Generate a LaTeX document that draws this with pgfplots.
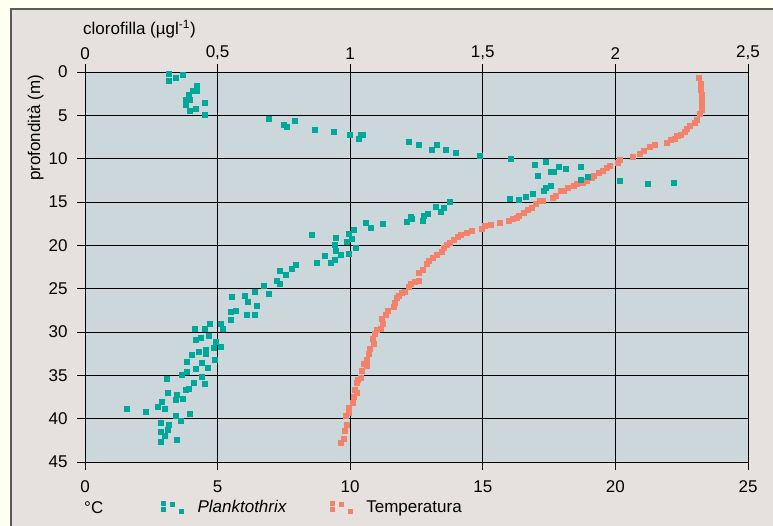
\documentclass[border=0pt]{standalone}
\usepackage{pgfplots}
\pgfplotsset{compat=1.18}
\usepackage{fontspec}
\setmainfont{Liberation Sans}

\definecolor{outerbg}{HTML}{FFFFF2}
\definecolor{panelbg}{HTML}{E6E1DE}
\definecolor{panelline}{HTML}{5A5A5A}
\definecolor{axisbg}{HTML}{CCD7DC}
\definecolor{plank}{HTML}{00A89C}
\definecolor{temp}{HTML}{F4826A}

% temperatura (gradi C) vs profondita (m)
\pgfplotstableread{
T d
23.13 0.62
23.21 1.31
23.21 2.00
23.25 2.58
23.25 3.15
23.24 3.62
23.25 4.31
23.16 4.85
23.05 5.46
22.98 5.81
22.82 6.15
22.67 6.50
22.63 6.85
22.48 7.19
22.33 7.31
22.22 7.65
22.07 7.77
21.92 8.12
21.50 8.35
21.28 8.58
21.05 9.04
20.90 9.38
20.64 9.73
20.18 10.08
20.07 10.42
19.77 10.77
19.66 11.00
19.51 11.35
19.36 11.58
19.20 11.92
19.09 12.15
18.90 12.50
18.75 12.73
18.53 12.84
18.41 13.07
18.19 13.30
18.04 13.65
17.92 13.65
17.73 14.23
17.62 14.46
17.24 14.80
17.13 14.80
16.98 15.15
16.83 15.61
16.68 15.84
16.53 16.19
16.37 16.53
16.26 16.76
16.11 16.88
15.96 17.11
15.62 17.35
15.28 17.57
15.09 17.69
14.94 18.04
14.57 18.27
14.38 18.50
14.15 18.73
14.04 18.96
13.89 19.30
13.74 19.65
13.62 19.88
13.51 20.23
13.44 20.69
13.28 21.03
13.10 21.38
12.95 21.73
12.87 22.07
12.72 22.77
12.57 23.11
12.57 24.03
12.42 24.15
12.27 24.38
12.19 24.73
12.04 25.30
11.96 25.42
11.81 25.77
11.76 26.00
11.66 26.57
11.65 27.04
11.43 27.50
11.35 27.96
11.20 28.42
11.24 29.00
11.16 29.57
11.01 29.69
10.94 30.15
10.86 30.73
10.90 31.30
10.75 31.88
10.71 32.46
10.63 33.15
10.52 33.61
10.63 33.84
10.44 34.42
10.41 35.23
10.29 35.46
10.26 35.80
10.18 36.61
10.26 36.96
10.14 37.42
10.11 38.11
9.93 38.69
9.95 39.27
9.84 39.61
9.88 40.65
9.80 41.34
9.77 42.26
9.65 42.73
}\temptab

% Planktothrix, clorofilla (ug/l) vs profondita (m)
\pgfplotstableread{
c d
0.314 0.23
0.314 1.04
0.342 0.69
0.367 0.35
0.421 1.62
0.421 2.16
0.406 2.16
0.390 2.62
0.380 3.15
0.380 3.73
0.396 3.15
0.417 4.19
0.450 3.50
0.393 4.50
0.450 4.96
0.691 5.35
0.748 6.04
0.759 6.27
0.789 5.58
0.868 6.62
0.936 6.85
0.997 7.19
1.031 7.65
1.038 7.19
1.049 7.19
1.219 8.00
1.257 8.35
1.306 8.92
1.328 8.35
1.359 8.92
1.396 9.27
1.489 9.62
1.604 9.96
1.694 10.65
1.736 10.31
1.785 10.88
1.811 11.11
1.871 10.88
1.706 11.92
1.755 11.46
1.766 11.46
1.871 12.38
1.894 12.04
2.018 12.50
2.120 12.84
2.218 12.73
1.755 13.07
1.739 13.30
1.728 13.65
1.687 14.00
1.660 14.34
1.634 14.69
1.600 14.57
1.377 14.92
1.321 15.50
1.351 15.61
1.340 16.07
1.294 16.30
1.279 16.53
1.227 16.65
1.230 16.88
1.212 17.23
1.272 17.11
1.121 17.46
1.057 17.35
1.076 17.92
1.012 18.15
0.853 18.73
0.944 19.07
0.993 18.61
1.004 19.19
0.985 19.53
0.940 19.88
1.019 20.23
0.944 20.57
0.963 21.03
0.993 20.92
0.902 21.15
0.940 21.61
0.925 21.96
0.872 21.96
0.793 22.19
0.778 22.65
0.736 22.88
0.755 23.34
0.721 24.03
0.733 24.38
0.672 24.61
0.638 25.30
0.691 25.53
0.601 25.77
0.555 25.88
0.612 26.46
0.646 26.92
0.548 27.61
0.567 27.50
0.608 27.96
0.638 27.96
0.548 28.53
0.469 29.00
0.510 29.00
0.518 29.57
0.412 29.57
0.450 29.57
0.465 30.38
0.416 30.84
0.435 30.61
0.491 31.07
0.484 31.77
0.510 31.65
0.454 32.00
0.427 32.23
0.454 32.46
0.401 32.57
0.488 33.15
0.382 33.38
0.439 33.50
0.461 34.07
0.416 34.19
0.382 34.53
0.363 34.88
0.439 35.11
0.307 35.34
0.408 35.80
0.450 35.92
0.390 36.50
0.378 36.61
0.310 36.96
0.344 37.19
0.367 37.65
0.341 37.77
0.288 38.00
0.276 38.57
0.299 38.80
0.156 38.80
0.227 39.15
0.393 39.38
0.341 39.61
0.359 40.19
0.284 40.42
0.314 40.65
0.310 41.23
0.284 41.46
0.299 41.92
0.344 42.38
0.284 42.61
}\planktab

\newcommand{\fs}{\fontsize{17}{20}\selectfont}

\pgfplotsset{
  quad/.style={
    legend image code/.code={
      \fill (1pt,2pt) rectangle (5pt,6pt);
      \fill (10pt,1pt) rectangle (14pt,5pt);
      \fill (1pt,-4pt) rectangle (5pt,0pt);
      \fill (19pt,-6pt) rectangle (23pt,-2pt);
    }
  },
  common/.style={
    at={(85pt,64pt)}, anchor=south west,
    scale only axis, width=663pt, height=390pt,
    ymin=0, ymax=45, y dir=reverse,
    tick align=outside, major tick length=8pt,
    every tick/.style={black, line width=1pt},
    /pgf/number format/assume math mode=true,
    tick label style={font=\fs},
  }
}

\begin{document}
\begin{tikzpicture}[x=1pt,y=1pt]
\useasboundingbox (0,0) rectangle (773,526);
\fill[outerbg] (0,0) rectangle (773,526);
\fill[panelbg] (11,0) rectangle (773,517);
\draw[panelline, line width=1.6pt] (11,0) -- (11,517) -- (773,517);

\begin{axis}[common,
  xmin=0, xmax=25,
  xtick={0,5,...,25}, ytick={0,5,...,45},
  xtick pos=bottom, ytick pos=left,
  xticklabel style={yshift=-7pt},
  yticklabel style={xshift=-6pt},
  axis background/.style={fill=axisbg},
  axis line style={black, line width=1pt},
  grid=major, major grid style={black, line width=1pt},
]
\addplot[only marks, mark=square*, mark size=2.5pt, temp, mark options={draw=none}]
  table[x=T, y=d]{\temptab};
\end{axis}

\begin{axis}[common,
  xmin=0, xmax=2.5,
  axis x line*=top, axis y line=none,
  xtick={0,0.5,...,2.5},
  xticklabels={0,{0,5},1,{1,5},2,{2,5}},
  xticklabel style={yshift=1pt},
  axis line style={black, line width=1pt},
  legend columns=2,
  legend style={at={(axis description cs:0.1146,-0.1154)}, anchor=west,
    draw=none, fill=none, inner sep=0pt, font=\fs,
    nodes={inner sep=0pt},
    /tikz/every odd column/.append style={column sep=14pt},
    /tikz/every even column/.append style={column sep=43pt}},
]
\addplot[only marks, mark=square*, mark size=2.5pt, plank, mark options={draw=none}, quad]
  table[x=c, y=d]{\planktab};
\addlegendentry{\textit{Planktothrix}}
\addlegendimage{only marks, mark=square*, temp, quad}
\addlegendentry{Temperatura}
\end{axis}

\node[anchor=base west, font=\fs, inner sep=0pt] at (83,491) {clorofilla (µgl\textsuperscript{-1})};
\node[anchor=base, rotate=90, font=\fs, inner sep=0pt] at (40,398) {profondità (m)};
\node[anchor=base west, font=\fs, inner sep=0pt] at (84,12) {°C};
\end{tikzpicture}
\end{document}
